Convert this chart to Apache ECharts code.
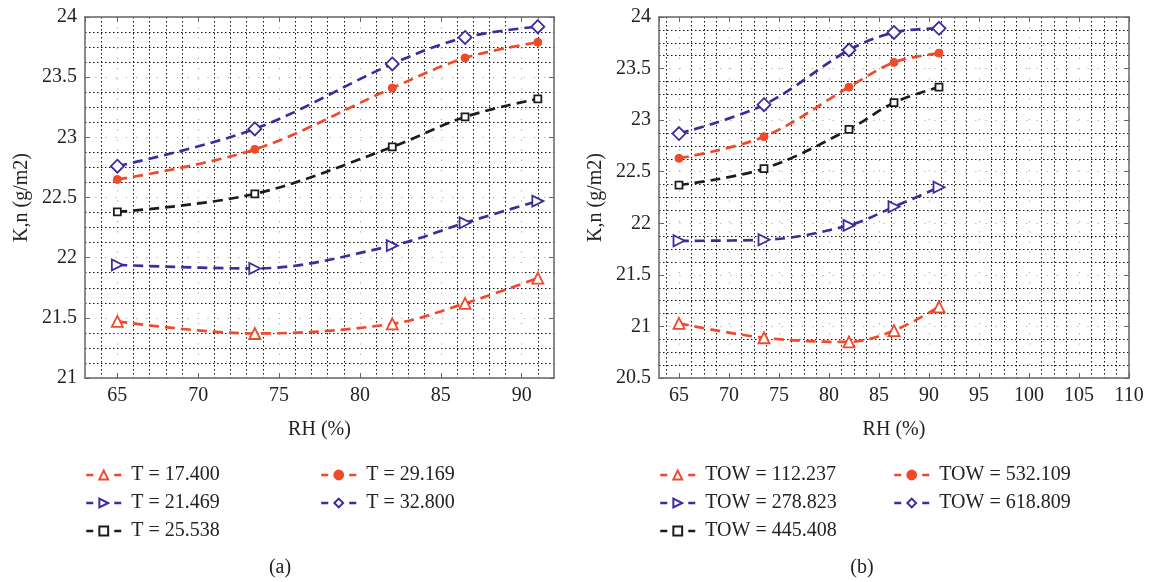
<!DOCTYPE html>
<html>
<head>
<meta charset="utf-8">
<script src="https://cdn.jsdelivr.net/npm/echarts@6/dist/echarts.min.js"></script>
<style>
html, body { margin: 0; padding: 0; background: #fff; }
#chart { width: 1152px; height: 582px; }
</style>
</head>
<body>
<div id="chart"></div>
<script>
// Relative humidity sample points shared by both panels
const rh = [65, 73.5, 82, 86.5, 91];

// Panel (a): K,n against RH at five temperatures
const tempNames = ['T = 17.400', 'T = 21.469', 'T = 25.538', 'T = 29.169', 'T = 32.800'];
const kT17 = [21.47, 21.37, 21.45, 21.62, 21.83];
const kT21 = [21.94, 21.91, 22.10, 22.29, 22.47];
const kT25 = [22.38, 22.53, 22.92, 23.17, 23.32];
const kT29 = [22.65, 22.90, 23.41, 23.66, 23.79];
const kT32 = [22.76, 23.07, 23.61, 23.83, 23.92];

// Panel (b): K,n against RH at five times of wetness
const towNames = ['TOW = 112.237', 'TOW = 278.823', 'TOW = 445.408', 'TOW = 532.109', 'TOW = 618.809'];
const kW112 = [21.03, 20.89, 20.85, 20.96, 21.19];
const kW278 = [21.83, 21.84, 21.98, 22.16, 22.35];
const kW445 = [22.37, 22.53, 22.91, 23.17, 23.32];
const kW532 = [22.63, 22.84, 23.32, 23.56, 23.65];
const kW618 = [22.87, 23.15, 23.68, 23.85, 23.89];

// Axis ranges
const xRangeA = [63, 92];
const yRangeA = [21, 24];
const xRangeB = [63, 110];
const yRangeB = [20.5, 24];
const yStep = 0.5;

const FONT = 'Liberation Serif';
const FS = 20;
const RED = '#f0492b';
const BLUE = '#3a2d9e';
const BLACK = '#1c1c1c';
const AXIS = '#666';

// Marker / line look for the five curves of each panel (same order as the names)
const looks = [
  { color: RED,   symbol: 'triangle', size: 11, rotate: 0,   hollow: true },
  { color: BLUE,  symbol: 'triangle', size: 11, rotate: -90, hollow: true },
  { color: BLACK, symbol: 'rect',     size: 7,  rotate: 0,   hollow: true },
  { color: RED,   symbol: 'circle',   size: 8,  rotate: 0,   hollow: false },
  { color: BLUE,  symbol: 'diamond',  size: 13, rotate: 0,   hollow: true }
];

function pairs(ys) { return rh.map((x, i) => [x, ys[i]]); }

function makeSeries(names, sets, axisIdx) {
  return sets.map((ys, i) => {
    const lk = looks[i];
    return {
      name: names[i],
      type: 'line',
      xAxisIndex: axisIdx,
      yAxisIndex: axisIdx,
      data: pairs(ys),
      smooth: 0.35,
      symbol: lk.symbol,
      symbolSize: lk.size,
      symbolRotate: lk.rotate,
      showAllSymbol: true,
      lineStyle: { color: lk.color, width: 2.7, type: [10, 6] },
      itemStyle: lk.hollow
        ? { color: '#fff', borderColor: lk.color, borderWidth: 1.8 }
        : { color: lk.color, borderColor: lk.color, borderWidth: 1 },
      emphasis: { disabled: true },
      z: 5
    };
  });
}

const labelStyle = { fontFamily: FONT, fontSize: FS, color: '#222' };

function mainX(grid, range, splitNumber, minor, hideMax) {
  return {
    type: 'value', gridIndex: grid, position: 'bottom',
    min: range[0], max: range[1], splitNumber: splitNumber,
    name: 'RH (%)', nameLocation: 'middle', nameGap: 42,
    nameTextStyle: labelStyle,
    axisLine: { onZero: false, lineStyle: { color: AXIS, width: 1.5 } },
    axisTick: { inside: true, length: 5, lineStyle: { color: AXIS } },
    axisLabel: Object.assign({ margin: 8, showMinLabel: false, showMaxLabel: !hideMax }, labelStyle),
    splitLine: { show: true, lineStyle: { color: '#b0b0b0', width: 1.2, type: [1.2, 9] } },
    minorTick: { show: false, splitNumber: minor },
    minorSplitLine: { show: true, lineStyle: { color: '#111', width: 1, type: [1.5, 2.5] } }
  };
}

function mainY(grid, range) {
  return {
    type: 'value', gridIndex: grid, position: 'left',
    min: range[0], max: range[1], interval: yStep,
    name: 'K,n (g/m2)', nameLocation: 'middle', nameGap: 53, nameRotate: 90,
    nameTextStyle: labelStyle,
    axisLine: { onZero: false, lineStyle: { color: AXIS, width: 1.5 } },
    axisTick: { inside: true, length: 5, lineStyle: { color: AXIS } },
    axisLabel: Object.assign({ margin: 8 }, labelStyle),
    splitLine: { show: true, lineStyle: { color: '#b0b0b0', width: 1.2, type: [1.2, 9] } },
    minorTick: { show: false, splitNumber: 4 },
    minorSplitLine: { show: true, lineStyle: { color: '#111', width: 1, type: [1.5, 2.5] } }
  };
}

// Box edges on the top and right with inward ticks
function frameX(grid, range, splitNumber) {
  return {
    type: 'value', gridIndex: grid, position: 'top',
    min: range[0], max: range[1], splitNumber: splitNumber,
    axisLine: { onZero: false, lineStyle: { color: AXIS, width: 1.5 } },
    axisTick: { inside: true, length: 5, lineStyle: { color: AXIS } },
    axisLabel: { show: false }, splitLine: { show: false }
  };
}
function frameY(grid, range) {
  return {
    type: 'value', gridIndex: grid, position: 'right',
    min: range[0], max: range[1], interval: yStep,
    axisLine: { onZero: false, lineStyle: { color: AXIS, width: 1.5 } },
    axisTick: { inside: true, length: 5, lineStyle: { color: AXIS } },
    axisLabel: { show: false }, splitLine: { show: false }
  };
}

function legendCol(names, left) {
  return {
    data: names, left: left - 5, top: 460, orient: 'vertical',
    itemWidth: 35, itemHeight: 11, itemGap: 8,
    selectedMode: false,
    lineStyle: { type: [7, 21], width: 2.5 },
    textStyle: { fontFamily: FONT, fontSize: FS, color: '#222', lineHeight: 20, padding: [0, 0, 0, 5] }
  };
}

const option = {
  animation: false,
  backgroundColor: '#fff',
  grid: [
    { left: 85, top: 17, width: 469, height: 361 },
    { left: 659, top: 17, width: 470, height: 361 }
  ],
  xAxis: [
    mainX(0, xRangeA, 5, 5, true),
    mainX(1, xRangeB, 9, 4, false),
    frameX(0, xRangeA, 5),
    frameX(1, xRangeB, 9)
  ],
  yAxis: [
    mainY(0, yRangeA),
    mainY(1, yRangeB),
    frameY(0, yRangeA),
    frameY(1, yRangeB)
  ],
  legend: [
    legendCol([tempNames[0], tempNames[1], tempNames[2]], 85),
    legendCol([tempNames[3], tempNames[4]], 320),
    legendCol([towNames[0], towNames[1], towNames[2]], 659),
    legendCol([towNames[3], towNames[4]], 893)
  ],
  graphic: [
    { type: 'text', x: 280, y: 568, style: { text: '(a)', fontFamily: FONT, fontSize: FS, fill: '#222', align: 'center', verticalAlign: 'middle' } },
    { type: 'text', x: 862, y: 568, style: { text: '(b)', fontFamily: FONT, fontSize: FS, fill: '#222', align: 'center', verticalAlign: 'middle' } }
  ],
  series: [].concat(
    makeSeries(tempNames, [kT17, kT21, kT25, kT29, kT32], 0),
    makeSeries(towNames, [kW112, kW278, kW445, kW532, kW618], 1)
  )
};

const chart = echarts.init(document.getElementById('chart'), null, { renderer: 'canvas' });
chart.setOption(option);
</script>
</body>
</html>
